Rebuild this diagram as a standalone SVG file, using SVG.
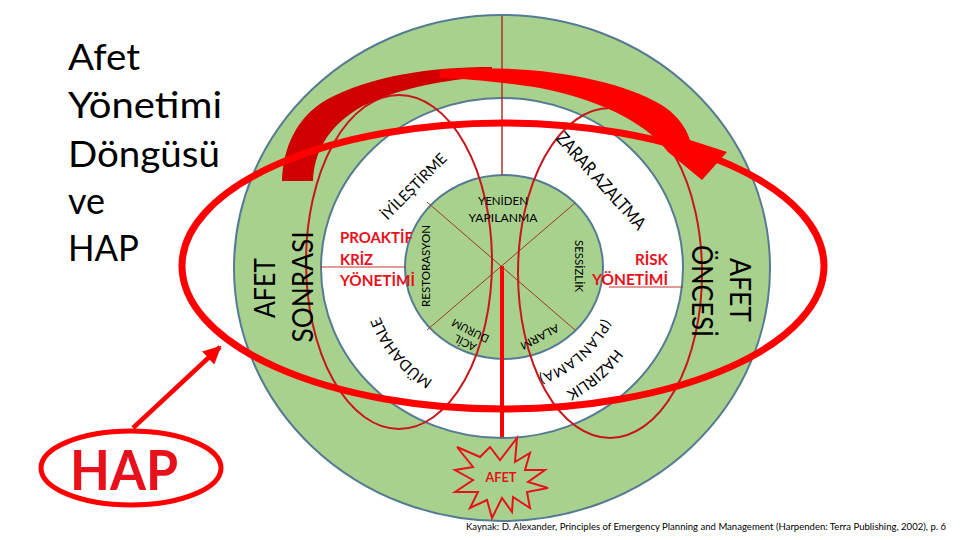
<svg xmlns="http://www.w3.org/2000/svg" width="960" height="540" viewBox="0 0 960 540">
<style>
.ring{stroke:#557b92;stroke-width:2}
.thin{fill:none;stroke:#c8161d;stroke-width:2}
.xl{stroke:#9c3b1b;stroke-width:1}
.t{font-family:Lato,"Open Sans","Liberation Sans",sans-serif;fill:#000}
.r{font-family:Lato,"Open Sans","Liberation Sans",sans-serif;fill:#e8101a;font-weight:bold}
</style>
<defs>
<path id="pMud" d="M479.1,398 A131,131 0 0 1 371,268"/>
<path id="pHaz" d="M639,292.1 A139,139 0 0 1 506.9,406.9"/>
<path id="pPlan" d="M615,268 A113,113 0 0 1 486.3,379.9"/>
<marker id="ah" viewBox="0 0 10 10" refX="9" refY="5" markerWidth="4" markerHeight="4" orient="auto"><path d="M0,0 L10,5 L0,10 Z" fill="#ff0000"/></marker>
</defs>
<rect width="960" height="540" fill="#fff"/>
<g id="rings">
<ellipse cx="502" cy="268" rx="268" ry="253" fill="#a9d18e" class="ring"/>
<ellipse cx="502" cy="268" rx="181" ry="170" fill="#fff" class="ring"/>
<ellipse cx="504" cy="267" rx="99" ry="92" fill="#a9d18e" class="ring"/>
</g>
<g id="connectors">
<line x1="427" y1="202" x2="575" y2="330" class="xl"/>
<line x1="575" y1="203" x2="427" y2="330" class="xl"/>
<line x1="502" y1="16" x2="502" y2="175" stroke="#b0302a" stroke-width="1.5"/>
<line x1="320" y1="267" x2="406" y2="267" stroke="#c0392b" stroke-width="1.2"/>
<line x1="609" y1="287" x2="683" y2="287" stroke="#c0392b" stroke-width="1.2"/>
<ellipse cx="399" cy="262" rx="93" ry="167" class="thin"/>
<ellipse cx="610" cy="273" rx="92" ry="165" class="thin"/>
<line x1="502" y1="266" x2="502" y2="437" stroke="#ff0000" stroke-width="4"/>
<path d="M282,181 L313,181 C314,152 328,128 356,110 C390,90 440,80 492,76 L492,67 C430,67 370,76 326,100 C296,118 283,148 282,181 Z" fill="#d00000"/>
<path d="M440,70 C530,63 615,78 660,104 C675,113 685,125 690,140 L727,152 L702,180 L668,152 C650,128 610,102 540,88 C510,83 470,79 440,78 Z" fill="#ff0000"/>
<ellipse cx="503" cy="266" rx="321" ry="143" fill="none" stroke="#ff0000" stroke-width="7"/>
<line x1="133" y1="428" x2="220" y2="347" stroke="#ff0000" stroke-width="4.5" marker-end="url(#ah)"/>
</g>
<g id="title">
<text class="t" x="68" y="70" font-size="37" textLength="72" lengthAdjust="spacingAndGlyphs">Afet</text>
<text class="t" x="68" y="118" font-size="37" textLength="154" lengthAdjust="spacingAndGlyphs">Yönetimi</text>
<text class="t" x="68" y="167" font-size="37" textLength="152" lengthAdjust="spacingAndGlyphs">Döngüsü</text>
<text class="t" x="68" y="214" font-size="37" textLength="37" lengthAdjust="spacingAndGlyphs">ve</text>
<text class="t" x="68" y="261" font-size="37" textLength="71" lengthAdjust="spacingAndGlyphs">HAP</text>
</g>
<g id="afet-sonrasi">
<text class="t" font-size="29" text-anchor="middle" transform="translate(275,288) rotate(-90)" textLength="60" lengthAdjust="spacingAndGlyphs">AFET</text>
<text class="t" font-size="29" text-anchor="middle" transform="translate(313,287) rotate(-90)" textLength="111" lengthAdjust="spacingAndGlyphs">SONRASI</text>
</g>
<g id="afet-oncesi">
<text class="t" font-size="29" text-anchor="middle" transform="translate(730,290) rotate(90)" textLength="64" lengthAdjust="spacingAndGlyphs">AFET</text>
<text class="t" font-size="29" text-anchor="middle" transform="translate(692,291) rotate(90)" textLength="92" lengthAdjust="spacingAndGlyphs">ÖNCESİ</text>
</g>
<g id="iyilestirme">
<text class="t" font-size="15" text-anchor="middle" transform="translate(417.6,190) rotate(-45.5)" textLength="86" lengthAdjust="spacingAndGlyphs">İYİLEŞTİRME</text>
</g>
<g id="zarar-azaltma">
<text class="t" font-size="18" text-anchor="middle" transform="translate(596.5,185) rotate(48)" textLength="124" lengthAdjust="spacingAndGlyphs">ZARAR AZALTMA</text>
</g>
<g id="mudahale">
<text class="t" font-size="15"><textPath href="#pMud" startOffset="50%" text-anchor="middle">MÜDAHALE</textPath></text>
</g>
<g id="hazirlik">
<text class="t" font-size="15"><textPath href="#pHaz" startOffset="50%" text-anchor="middle">HAZIRLIK</textPath></text>
<text class="t" font-size="14" letter-spacing="0.6"><textPath href="#pPlan" startOffset="50%" text-anchor="middle">(PLANLAMA)</textPath></text>
</g>
<g id="yeniden-yapilanma">
<text class="t" font-size="12" text-anchor="middle" x="503" y="205" textLength="50" lengthAdjust="spacingAndGlyphs">YENİDEN</text>
<text class="t" font-size="12" text-anchor="middle" x="503" y="222" textLength="69" lengthAdjust="spacingAndGlyphs">YAPILANMA</text>
</g>
<g id="restorasyon">
<text class="t" font-size="11" text-anchor="middle" transform="translate(430,266) rotate(-90)" textLength="82" lengthAdjust="spacingAndGlyphs">RESTORASYON</text>
</g>
<g id="sessizlik">
<text class="t" font-size="11" text-anchor="middle" transform="translate(575,266) rotate(90)" textLength="52" lengthAdjust="spacingAndGlyphs">SESSİZLİK</text>
</g>
<g id="acil-durum">
<text class="t" font-size="11" text-anchor="middle" transform="translate(466.8,339.4) rotate(206.6)">ACİL</text>
<text class="t" font-size="11" text-anchor="middle" transform="translate(472,327.4) rotate(206.6)" textLength="40" lengthAdjust="spacingAndGlyphs">DURUM</text>
</g>
<g id="alarm">
<text class="t" font-size="11" text-anchor="middle" transform="translate(538,333.5) rotate(152)" textLength="42" lengthAdjust="spacingAndGlyphs">ALARM</text>
</g>
<g id="proaktif">
<text class="r" font-size="15" x="340" y="243" textLength="73" lengthAdjust="spacingAndGlyphs">PROAKTİF</text>
<text class="r" font-size="15" x="340" y="265" textLength="33" lengthAdjust="spacingAndGlyphs">KRİZ</text>
<text class="r" font-size="15" x="340" y="286" textLength="75" lengthAdjust="spacingAndGlyphs">YÖNETİMİ</text>
</g>
<g id="risk">
<text class="r" font-size="15" x="668" y="265" text-anchor="end" textLength="33" lengthAdjust="spacingAndGlyphs">RİSK</text>
<text class="r" font-size="15" x="668" y="285" text-anchor="end" textLength="76" lengthAdjust="spacingAndGlyphs">YÖNETİMİ</text>
</g>
<g id="afet-star">
<polygon points="457,447 480,457 490,447 500,460 517,438 515,462 530,453 525,470 545,470 528,482 548,488 527,492 530,508 513,497 512,512 502,498 492,518 487,500 470,508 478,492 455,492 473,480 455,470 473,467" fill="none" stroke="#e8101a" stroke-width="2" stroke-linejoin="miter"/>
<text class="r" font-size="13" x="501" y="482" text-anchor="middle" textLength="31" lengthAdjust="spacingAndGlyphs">AFET</text>
</g>
<g id="hap">
<ellipse cx="131" cy="468" rx="90" ry="37" fill="#fff" stroke="#ff0000" stroke-width="5"/>
<text class="r" font-size="55" x="124" y="490" text-anchor="middle" fill="#ff0000" textLength="108" lengthAdjust="spacingAndGlyphs">HAP</text>
</g>
<g id="citation">
<text class="t" font-size="10" x="466" y="530" fill="#222" textLength="480" lengthAdjust="spacingAndGlyphs">Kaynak: D. Alexander, Principles of Emergency Planning and Management (Harpenden: Terra Publishing, 2002), p. 6</text>
</g>
</svg>
